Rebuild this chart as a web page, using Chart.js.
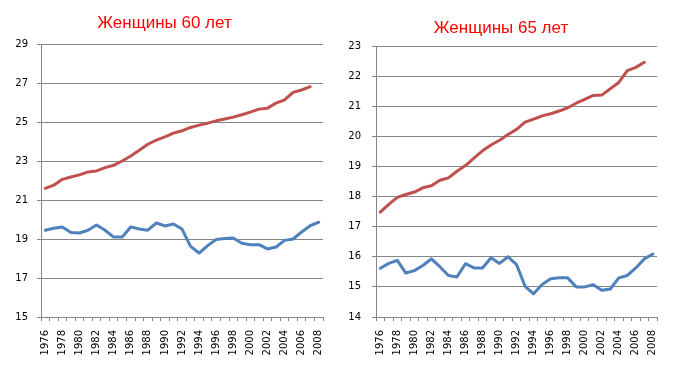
<!DOCTYPE html>
<html>
<head>
<meta charset="utf-8">
<script src="https://cdn.jsdelivr.net/npm/chart.js@4/dist/chart.umd.min.js"></script>
<style>
  html, body { margin: 0; padding: 0; background: #ffffff; }
  body { width: 674px; height: 376px; position: relative; overflow: hidden; }
  canvas { position: absolute; top: 0; }
  #c1 { left: 6px; }
  #c2 { left: 337px; }
</style>
</head>
<body>
<canvas id="c1" width="338" height="376"></canvas>
<canvas id="c2" width="337" height="376"></canvas>
<script>
const years = ['1976','1977','1978','1979','1980','1981','1982','1983','1984','1985','1986','1987','1988','1989','1990','1991','1992','1993','1994','1995','1996','1997','1998','1999','2000','2001','2002','2003','2004','2005','2006','2007','2008'];

const title60 = 'Женщины 60 лет';
const title65 = 'Женщины 65 лет';

const women60Red = [21.6, 21.76, 22.06, 22.18, 22.29, 22.44, 22.49, 22.66, 22.78, 23.0, 23.26, 23.55, 23.86, 24.07, 24.24, 24.43, 24.55, 24.72, 24.84, 24.94, 25.06, 25.15, 25.25, 25.37, 25.51, 25.66, 25.71, 25.97, 26.13, 26.52, 26.64, 26.81];
const women60Blue = [19.45, 19.55, 19.62, 19.33, 19.31, 19.45, 19.72, 19.45, 19.1, 19.1, 19.62, 19.51, 19.45, 19.82, 19.67, 19.77, 19.51, 18.62, 18.28, 18.66, 18.97, 19.02, 19.05, 18.78, 18.71, 18.71, 18.49, 18.59, 18.93, 19.0, 19.36, 19.68, 19.86];

const women65Red = [17.48, 17.74, 17.97, 18.07, 18.15, 18.29, 18.36, 18.54, 18.62, 18.84, 19.03, 19.28, 19.52, 19.71, 19.87, 20.06, 20.23, 20.47, 20.57, 20.68, 20.75, 20.84, 20.95, 21.1, 21.23, 21.36, 21.37, 21.58, 21.79, 22.18, 22.29, 22.46];
const women65Blue = [15.62, 15.78, 15.88, 15.46, 15.54, 15.71, 15.93, 15.67, 15.38, 15.33, 15.77, 15.63, 15.63, 15.97, 15.78, 16.0, 15.74, 15.02, 14.77, 15.08, 15.27, 15.3, 15.3, 15.0, 15.0, 15.07, 14.89, 14.93, 15.3, 15.38, 15.63, 15.93, 16.09];

const RED = '#C0504D';
const BLUE = '#4F81BD';
const GRID = '#868686';
const tickFont = { family: 'DejaVu Sans', size: 10 };

function makeChart(id, title, red, blue, yMin, yMax, yStep, cfg) {
  return new Chart(document.getElementById(id), {
    type: 'line',
    data: {
      labels: years,
      datasets: [
        { label: 'red', data: red, borderColor: RED, backgroundColor: RED, borderWidth: 3, pointRadius: 0, tension: 0, borderJoinStyle: 'round', borderCapStyle: 'round', fill: false },
        { label: 'blue', data: blue, borderColor: BLUE, backgroundColor: BLUE, borderWidth: 3, pointRadius: 0, tension: 0, borderJoinStyle: 'round', borderCapStyle: 'round', fill: false }
      ]
    },
    options: {
      responsive: false,
      animation: false,
      devicePixelRatio: 1,
      layout: { padding: { left: 0, right: cfg.padRight, top: 0, bottom: 0 } },
      plugins: {
        legend: { display: false },
        tooltip: { enabled: false },
        title: {
          display: true,
          text: title,
          color: '#FF0000',
          font: { family: 'Liberation Sans', size: 17, weight: 'normal' },
          padding: { top: cfg.titleTop, bottom: cfg.titleBottom }
        }
      },
      scales: {
        x: {
          offset: true,
          grid: { display: true, drawOnChartArea: false, drawTicks: true, tickLength: 4, offset: true, color: GRID },
          border: { display: true, color: GRID, width: 1 },
          ticks: {
            autoSkip: false, minRotation: 90, maxRotation: 90, padding: 9,
            color: '#000', font: tickFont,
            callback: (v, i) => (i % 2 === 0 ? years[i] : '')
          },
          afterFit: s => { s.height = 59; }
        },
        y: {
          min: yMin, max: yMax,
          grid: { color: GRID, lineWidth: 1, tickLength: 4, drawTicks: true },
          border: { display: true, color: GRID, width: 1 },
          ticks: { stepSize: yStep, padding: cfg.yPad, color: '#000', font: tickFont },
          afterFit: s => { s.width = cfg.yWidth; }
        }
      }
    }
  });
}

makeChart('c1', title60, women60Red, women60Blue, 15, 29, 2, { padRight: 21, yWidth: 35, yPad: 9, titleTop: 13, titleBottom: 10.6 });
makeChart('c2', title65, women65Red, women65Blue, 14, 23, 1, { padRight: 9, yWidth: 39, yPad: 11, titleTop: 18, titleBottom: 7.6 });
</script>
</body>
</html>
